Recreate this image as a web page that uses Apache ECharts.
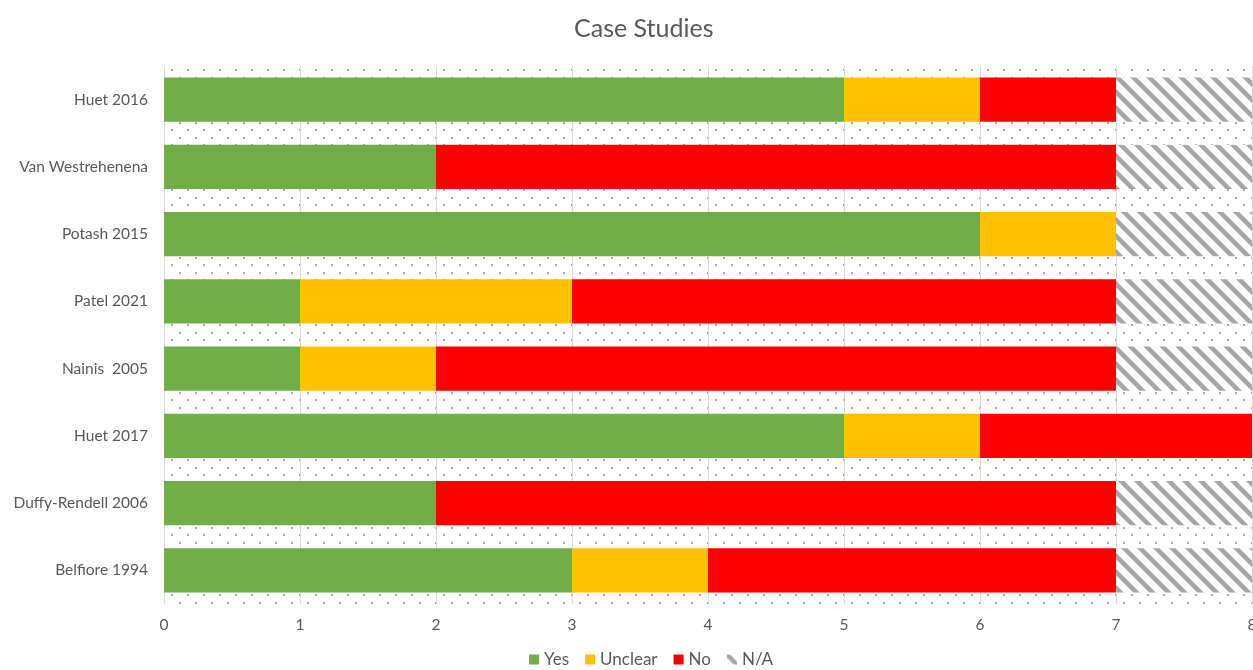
<!DOCTYPE html>
<html>
<head>
<meta charset="utf-8">
<script src="https://cdn.jsdelivr.net/npm/echarts@6/dist/echarts.min.js"></script>
<style>
  html, body { margin: 0; padding: 0; background: #fff; }
  #chart { width: 1253px; height: 670px; }
</style>
</head>
<body>
<div id="chart"></div>
<script>
// Studies, listed bottom to top as they appear on the category axis
const studies = ['Belfiore 1994', 'Duffy-Rendell 2006', 'Huet 2017', 'Nainis  2005',
                 'Patel 2021', 'Potash 2015', 'Van Westrehenena', 'Huet 2016'];
const yesValues     = [3, 2, 5, 1, 1, 6, 2, 5];
const unclearValues = [1, 0, 1, 1, 2, 1, 0, 1];
const noValues      = [3, 5, 2, 5, 4, 0, 5, 1];
const naValues      = [1, 1, 0, 1, 1, 1, 1, 1];
const xTicks = [0, 1, 2, 3, 4, 5, 6, 7, 8];

// Dotted plot background tile
function dotTile() {
  const c = document.createElement('canvas');
  c.width = 16; c.height = 15;
  const g = c.getContext('2d');
  g.fillStyle = '#fff';
  g.fillRect(0, 0, 16, 15);
  g.fillStyle = '#a9a9a9';
  g.fillRect(3, 2, 2, 2);
  g.fillRect(11, 9, 2, 2);
  return c;
}

// Diagonal hatch tile for the N/A segments
function hatchTile() {
  const s = 16;
  const c = document.createElement('canvas');
  c.width = s; c.height = s;
  const g = c.getContext('2d');
  g.fillStyle = '#fff';
  g.fillRect(0, 0, s, s);
  g.strokeStyle = '#a6a6a6';
  g.lineWidth = 4.5;
  g.beginPath();
  for (let k = -1; k <= 1; k++) {
    g.moveTo(k * s - 2, -2);
    g.lineTo(k * s + s + 2, s + 2);
  }
  g.stroke();
  return c;
}

const chart = echarts.init(document.getElementById('chart'));
const font = 'Lato, "Open Sans", sans-serif';
const textColor = '#595959';

function seg(name, data, color) {
  return {
    name: name,
    type: 'bar',
    stack: 'total',
    barWidth: '66%',
    data: data,
    itemStyle: { color: color },
    emphasis: { disabled: true }
  };
}

chart.setOption({
  animation: false,
  title: {
    text: 'Case Studies',
    left: 569,
    top: 11,
    textStyle: { fontFamily: font, fontSize: 25, fontWeight: 'normal', color: textColor }
  },
  legend: {
    bottom: -3,
    left: 524,
    itemWidth: 10,
    itemHeight: 10,
    itemGap: 16,
    icon: 'rect',
    textStyle: { fontFamily: font, fontSize: 17, color: textColor },
    data: ['Yes', 'Unclear', 'No', 'N/A']
  },
  grid: {
    left: 164, right: 1, top: 66, bottom: 66,
    outerBoundsMode: 'none',
    containLabel: false,
    show: true,
    borderWidth: 0,
    backgroundColor: { image: dotTile(), repeat: 'repeat' }
  },
  xAxis: {
    type: 'value',
    min: xTicks[0],
    max: xTicks[xTicks.length - 1],
    interval: 1,
    axisLine: { show: false },
    axisTick: { show: false },
    axisLabel: { color: textColor, fontFamily: font, fontSize: 15.5, margin: 13 },
    splitLine: { show: true, lineStyle: { color: '#d9d9d9', width: 1 } }
  },
  yAxis: {
    type: 'category',
    data: studies,
    axisLine: { show: false },
    axisTick: { show: false },
    axisLabel: { color: textColor, fontFamily: font, fontSize: 15.5, margin: 16 }
  },
  series: [
    seg('Yes', yesValues, '#70ad47'),
    seg('Unclear', unclearValues, '#ffc000'),
    seg('No', noValues, '#ff0000'),
    seg('N/A', naValues, { image: hatchTile(), repeat: 'repeat' })
  ]
});
</script>
</body>
</html>
